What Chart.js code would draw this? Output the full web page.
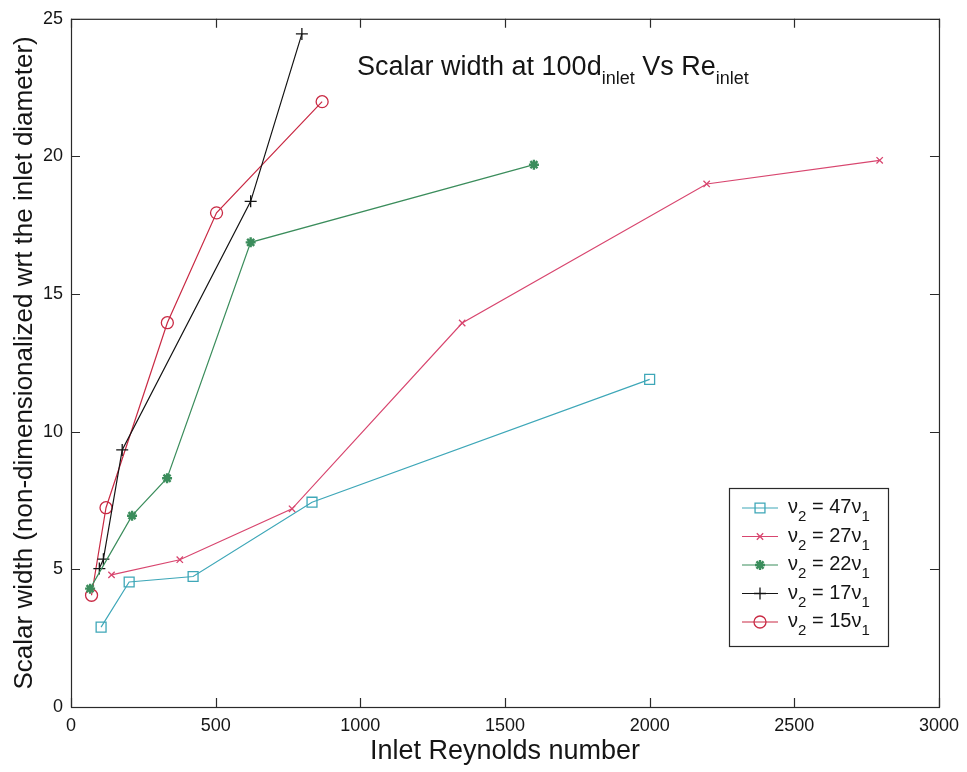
<!DOCTYPE html>
<html>
<head>
<meta charset="utf-8">
<script src="https://cdn.jsdelivr.net/npm/chart.js@4/dist/chart.umd.min.js"></script>
<style>
  html, body { margin: 0; padding: 0; background: #fff; }
  #wrap { width: 967px; height: 772px; }
</style>
</head>
<body>
<div id="wrap"><canvas id="c" width="967" height="772"></canvas></div>
<script>
// Scalar width at 100 inlet diameters vs inlet Reynolds number, one series per viscosity ratio
const reynolds47 = [104, 201, 422, 833, 2000];
const width47    = [2.9, 4.54, 4.74, 7.44, 11.9];

const reynolds27 = [140, 376, 764, 1352, 2197, 2795];
const width27    = [4.8, 5.35, 7.2, 13.95, 19.0, 19.86];

const reynolds22 = [66, 211, 332, 621, 1600];
const width22    = [4.3, 6.95, 8.31, 16.88, 19.7];

const reynolds17 = [98, 112, 177, 621, 798];
const width17    = [5.03, 5.37, 9.34, 18.37, 24.45];

const reynolds15 = [71, 121, 333, 503, 868];
const width15    = [4.06, 7.24, 13.96, 17.95, 21.99];

const ratioLabels = ['47', '27', '22', '17', '15'];
const xTicks = [0, 500, 1000, 1500, 2000, 2500, 3000];
const yTicks = [0, 5, 10, 15, 20, 25];

const FONT = "'Liberation Sans', Arial, Helvetica, sans-serif";
const INK = '#151515';

function pairs(xs, ys) { return xs.map((v, i) => ({ x: v, y: ys[i] })); }

function series(label, xs, ys, color, style, radius, bw) {
  return {
    label,
    data: pairs(xs, ys),
    showLine: true,
    borderColor: color,
    borderWidth: 1.2,
    backgroundColor: color,
    pointStyle: style,
    pointRadius: radius,
    pointBorderWidth: bw,
    pointBorderColor: color,
    pointBackgroundColor: 'rgba(0,0,0,0)',
    tension: 0
  };
}

const datasets = [
  series('47', reynolds47, width47, '#3ea7b8', 'rect', 7, 1.3),
  series('27', reynolds27, width27, '#d8466f', 'crossRot', 4.5, 1.3),
  series('22', reynolds22, width22, '#3b8d5c', 'star', 5, 2.4),
  series('17', reynolds17, width17, '#141414', 'cross', 6, 1.3),
  series('15', reynolds15, width15, '#c92a44', 'circle', 6, 1.3)
];

// text with subscripts: parts = [{t, sub}]
function drawRich(ctx, parts, x, y, main, sub, subDrop) {
  let cx = x;
  ctx.textAlign = 'left';
  ctx.textBaseline = 'alphabetic';
  parts.forEach(p => {
    ctx.font = (p.sub ? sub : main) + 'px ' + FONT;
    ctx.fillText(p.t, cx, p.sub ? y + subDrop : y);
    cx += ctx.measureText(p.t).width;
  });
}

function marker(ctx, ds, x, y) {
  ctx.save();
  ctx.strokeStyle = ds.pointBorderColor;
  ctx.fillStyle = 'rgba(0,0,0,0)';
  ctx.lineWidth = ds.pointBorderWidth;
  if (Chart.helpers && Chart.helpers.drawPoint) {
    Chart.helpers.drawPoint(ctx, {
      pointStyle: ds.pointStyle, radius: ds.pointRadius, rotation: 0,
      borderWidth: ds.pointBorderWidth
    }, x, y);
  }
  ctx.restore();
}

const frame = {
  id: 'frame',
  afterDraw(chart) {
    const { ctx, chartArea: a, scales } = chart;
    const sx = scales.x, sy = scales.y;
    const TICK = 9;
    ctx.save();
    ctx.strokeStyle = '#2a2a2a';
    ctx.lineWidth = 1.2;
    ctx.strokeRect(a.left + 0.5, a.top + 0.5, a.right - a.left, a.bottom - a.top);
    ctx.beginPath();
    sx.ticks.forEach(t => {
      const px = Math.round(sx.getPixelForValue(t.value)) + 0.5;
      ctx.moveTo(px, a.bottom); ctx.lineTo(px, a.bottom - TICK);
      ctx.moveTo(px, a.top); ctx.lineTo(px, a.top + TICK);
    });
    sy.ticks.forEach(t => {
      const py = Math.round(sy.getPixelForValue(t.value)) + 0.5;
      ctx.moveTo(a.left, py); ctx.lineTo(a.left + TICK, py);
      ctx.moveTo(a.right, py); ctx.lineTo(a.right - TICK, py);
    });
    ctx.stroke();

    // title with subscripts
    ctx.fillStyle = INK;
    const titleParts = [
      { t: 'Scalar width at 100d' }, { t: 'inlet', sub: true },
      { t: ' Vs Re' }, { t: 'inlet', sub: true }
    ];
    drawRich(ctx, titleParts, 357, 75, 27, 18, 9);

    // legend
    const L = 729, T = 488, R = 888, B = 646;
    ctx.fillStyle = '#fff';
    ctx.fillRect(L, T, R - L, B - T);
    ctx.strokeStyle = '#2a2a2a';
    ctx.lineWidth = 1.2;
    ctx.strokeRect(L + 0.5, T + 0.5, R - L, B - T);
    chart.data.datasets.forEach((ds, i) => {
      const cy = 508 + 28.5 * i;
      ctx.strokeStyle = ds.borderColor;
      ctx.lineWidth = ds.borderWidth;
      ctx.beginPath();
      ctx.moveTo(742, cy); ctx.lineTo(778, cy);
      ctx.stroke();
      marker(ctx, ds, 760, cy);
      ctx.fillStyle = INK;
      drawRich(ctx, [
        { t: '\u03bd' }, { t: '2', sub: true },
        { t: ' = ' + ratioLabels[i] + '\u03bd' }, { t: '1', sub: true }
      ], 788, cy + 5, 20, 15, 8);
    });
    ctx.restore();
  }
};

new Chart(document.getElementById('c'), {
  type: 'scatter',
  data: { datasets },
  options: {
    responsive: false,
    animation: false,
    devicePixelRatio: 1,
    layout: { padding: { top: 17, right: 27, left: 0, bottom: 0 } },
    plugins: { legend: { display: false }, tooltip: { enabled: false }, title: { display: false } },
    elements: { line: { tension: 0 } },
    scales: {
      x: {
        type: 'linear', min: 0, max: 3000,
        afterBuildTicks: s => { s.ticks = xTicks.map(v => ({ value: v })); },
        afterFit: s => { s.height = 65; },
        grid: { display: false, drawTicks: false },
        border: { display: false },
        ticks: { color: INK, padding: 8, font: { family: FONT, size: 18 }, maxRotation: 0,
                 callback: v => String(v) },
        title: { display: true, text: 'Inlet Reynolds number', color: INK,
                 font: { family: FONT, size: 27 }, padding: { top: 0, bottom: 4 } }
      },
      y: {
        type: 'linear', min: 0, max: 25,
        afterBuildTicks: s => { s.ticks = yTicks.map(v => ({ value: v })); },
        afterFit: s => { s.width = 71; },
        grid: { display: false, drawTicks: false },
        border: { display: false },
        ticks: { color: INK, padding: 8, font: { family: FONT, size: 18 }, callback: v => String(v) },
        title: { display: true, text: 'Scalar width (non-dimensionalized wrt the inlet diameter)', color: INK,
                 font: { family: FONT, size: 26 }, padding: { top: 9, bottom: 0 } }
      }
    }
  },
  plugins: [frame]
});
</script>
</body>
</html>
